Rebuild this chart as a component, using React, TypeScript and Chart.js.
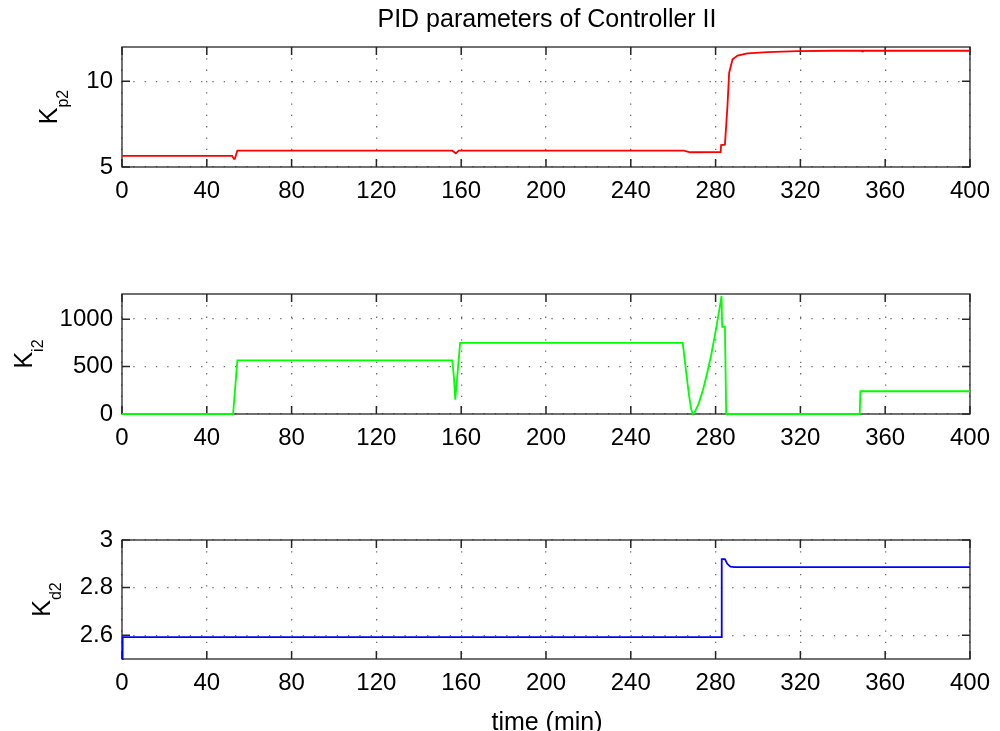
import React, { useEffect, useRef } from "react";
import Chart from "chart.js/auto";

// ---------- data ----------
const X_TICKS = [0, 40, 80, 120, 160, 200, 240, 280, 320, 360, 400];

const KP_TICKS = [5, 10];
const KI_TICKS = [0, 500, 1000];
const KD_TICKS = [2.6, 2.8, 3];

const KP_TIME = [0, 52, 52.8, 53.2, 54.4, 155.8, 157.5, 158.8, 265, 268, 282.4, 282.6, 284.4, 285.6, 286.4, 288, 290.4, 295, 304.5, 318.6, 335, 348.8, 349.1, 349.5, 400];
const KP_VALUES = [5.65, 5.65, 5.47, 5.47, 5.95, 5.95, 5.8, 5.95, 5.95, 5.86, 5.87, 6.28, 6.3, 8.56, 10.5, 11.28, 11.5, 11.63, 11.7, 11.76, 11.78, 11.78, 11.74, 11.78, 11.78];

const KI_TIME = [0, 52.4, 54.4, 155.8, 156.6, 157.2, 159.5, 264.5, 265.5, 266.5, 267.5, 268.5, 269.3, 270, 272, 274, 276, 278, 280, 281, 282, 282.8, 283.1, 284.4, 285, 348, 348.3, 400];
const KI_VALUES = [0, 0, 565, 565, 380, 150, 750, 750, 560, 370, 190, 50, 0, 10, 110, 250, 430, 630, 870, 1000, 1130, 1245, 918, 918, 0, 0, 240, 240];

const KD_TIME = [0, 0.3, 282.7, 282.9, 284.4, 285.5, 287, 289, 400];
const KD_VALUES = [2.5, 2.592, 2.592, 2.92, 2.92, 2.9, 2.888, 2.886, 2.886];

const TITLE = "PID parameters of Controller II";
const X_LABEL = "time (min)";

const FONT = "'Liberation Sans', Arial, Helvetica, sans-serif";

type Panel = {
  top: number;
  height: number;
  padTop: number;
  padBottom: number;
  time: number[];
  values: number[];
  color: string;
  yMin: number;
  yMax: number;
  yTicks: number[];
  sub: string;
  labelX: number;
};

const PANELS: Panel[] = [
  { top: 0, height: 250, padTop: 47, padBottom: 43, time: KP_TIME, values: KP_VALUES, color: "#ff0000", yMin: 5, yMax: 12, yTicks: KP_TICKS, sub: "p2", labelX: 57 },
  { top: 250, height: 245, padTop: 44, padBottom: 41, time: KI_TIME, values: KI_VALUES, color: "#00ff00", yMin: 0, yMax: 1265, yTicks: KI_TICKS, sub: "i2", labelX: 32 },
  { top: 495, height: 236, padTop: 45, padBottom: 32, time: KD_TIME, values: KD_VALUES, color: "#0000ff", yMin: 2.5, yMax: 3, yTicks: KD_TICKS, sub: "d2", labelX: 50 },
];

const framePlugin = {
  id: "frame",
  beforeDatasetsDraw(chart: any, _args: any, opts: any) {
    const { ctx, chartArea } = chart;
    const { left, right, top, bottom } = chartArea;
    const xs = chart.scales.x;
    const ys = chart.scales.y;
    ctx.save();
    ctx.strokeStyle = "#262626";
    ctx.lineWidth = 1.3;
    ctx.strokeRect(left, top, right - left, bottom - top);
    const tl = 8;
    ctx.lineWidth = 1.5;
    ctx.beginPath();
    for (const v of X_TICKS) {
      const px = xs.getPixelForValue(v);
      ctx.moveTo(px, bottom);
      ctx.lineTo(px, bottom - tl);
      ctx.moveTo(px, top);
      ctx.lineTo(px, top + tl);
    }
    for (const v of opts.yTicks) {
      const py = ys.getPixelForValue(v);
      ctx.moveTo(left, py);
      ctx.lineTo(left + tl, py);
      ctx.moveTo(right, py);
      ctx.lineTo(right - tl, py);
    }
    ctx.stroke();

    // y label K with subscript
    const cy = (top + bottom) / 2;
    ctx.translate(opts.labelX, cy);
    ctx.rotate(-Math.PI / 2);
    ctx.fillStyle = "#000";
    ctx.textBaseline = "alphabetic";
    ctx.textAlign = "left";
    ctx.font = `25px ${FONT}`;
    const wK = ctx.measureText("K").width;
    ctx.font = `16px ${FONT}`;
    const wS = ctx.measureText(opts.sub).width;
    const start = -(wK + wS) / 2;
    ctx.font = `25px ${FONT}`;
    ctx.fillText("K", start, 0);
    ctx.font = `16px ${FONT}`;
    ctx.fillText(opts.sub, start + wK, 10.5);
    ctx.restore();
  },
};

function PanelChart({ p }: { p: Panel }) {
  const ref = useRef<HTMLCanvasElement | null>(null);
  useEffect(() => {
    if (!ref.current) return;
    const data = p.time.map((t, i) => ({ x: t, y: p.values[i] }));
    const chart = new Chart(ref.current, {
      type: "line",
      data: {
        datasets: [
          {
            data,
            borderColor: p.color,
            borderWidth: 1.8,
            pointRadius: 0,
            tension: 0,
            fill: false,
            clip: 2,
          },
        ],
      },
      plugins: [framePlugin],
      options: {
        animation: false,
        responsive: false,
        events: [],
        layout: { padding: { top: p.padTop, bottom: p.padBottom, left: 0, right: 28 } },
        plugins: {
          legend: { display: false },
          tooltip: { enabled: false },
          frame: { yTicks: p.yTicks, sub: p.sub, labelX: p.labelX },
        } as any,
        scales: {
          x: {
            type: "linear",
            min: 0,
            max: 400,
            afterBuildTicks: (s: any) => {
              s.ticks = X_TICKS.map((v) => ({ value: v }));
            },
            afterFit: (s: any) => {
              s.height = 40;
            },
            ticks: {
              autoSkip: false,
              maxRotation: 0,
              padding: 10,
              color: "#000",
              font: { family: FONT, size: 24 },
              callback: (v: any) => String(v),
            },
            grid: { color: "#6a6a6a", lineWidth: 1.3, drawTicks: false },
            border: { display: false, dash: [1.3, 10] },
          },
          y: {
            type: "linear",
            min: p.yMin,
            max: p.yMax,
            afterBuildTicks: (s: any) => {
              s.ticks = p.yTicks.map((v) => ({ value: v }));
            },
            afterFit: (s: any) => {
              s.width = 122;
            },
            ticks: {
              padding: 9,
              color: "#000",
              font: { family: FONT, size: 24 },
              callback: (v: any) => String(v),
            },
            grid: { color: "#6a6a6a", lineWidth: 1.3, drawTicks: false },
            border: { display: false, dash: [1.3, 10] },
          },
        },
      },
    });
    return () => chart.destroy();
  }, [p]);
  return (
    <canvas
      ref={ref}
      width={1000}
      height={p.height}
      style={{ position: "absolute", left: 0, top: p.top, width: 1000, height: p.height }}
    />
  );
}

export default function App() {
  return (
    <div
      style={{
        position: "absolute",
        left: 0,
        top: 0,
        width: 1000,
        height: 731,
        background: "#fff",
        overflow: "hidden",
      }}
    >
      {PANELS.map((p, i) => (
        <PanelChart key={i} p={p} />
      ))}
      <div
        style={{
          position: "absolute",
          left: 122,
          width: 850,
          top: 2,
          textAlign: "center",
          fontFamily: FONT,
          fontSize: 25,
          color: "#000",
          lineHeight: "32px",
        }}
      >
        {TITLE}
      </div>
      <div
        style={{
          position: "absolute",
          left: 122,
          width: 850,
          top: 706,
          textAlign: "center",
          fontFamily: FONT,
          fontSize: 25,
          color: "#000",
          lineHeight: "30px",
        }}
      >
        {X_LABEL}
      </div>
    </div>
  );
}
